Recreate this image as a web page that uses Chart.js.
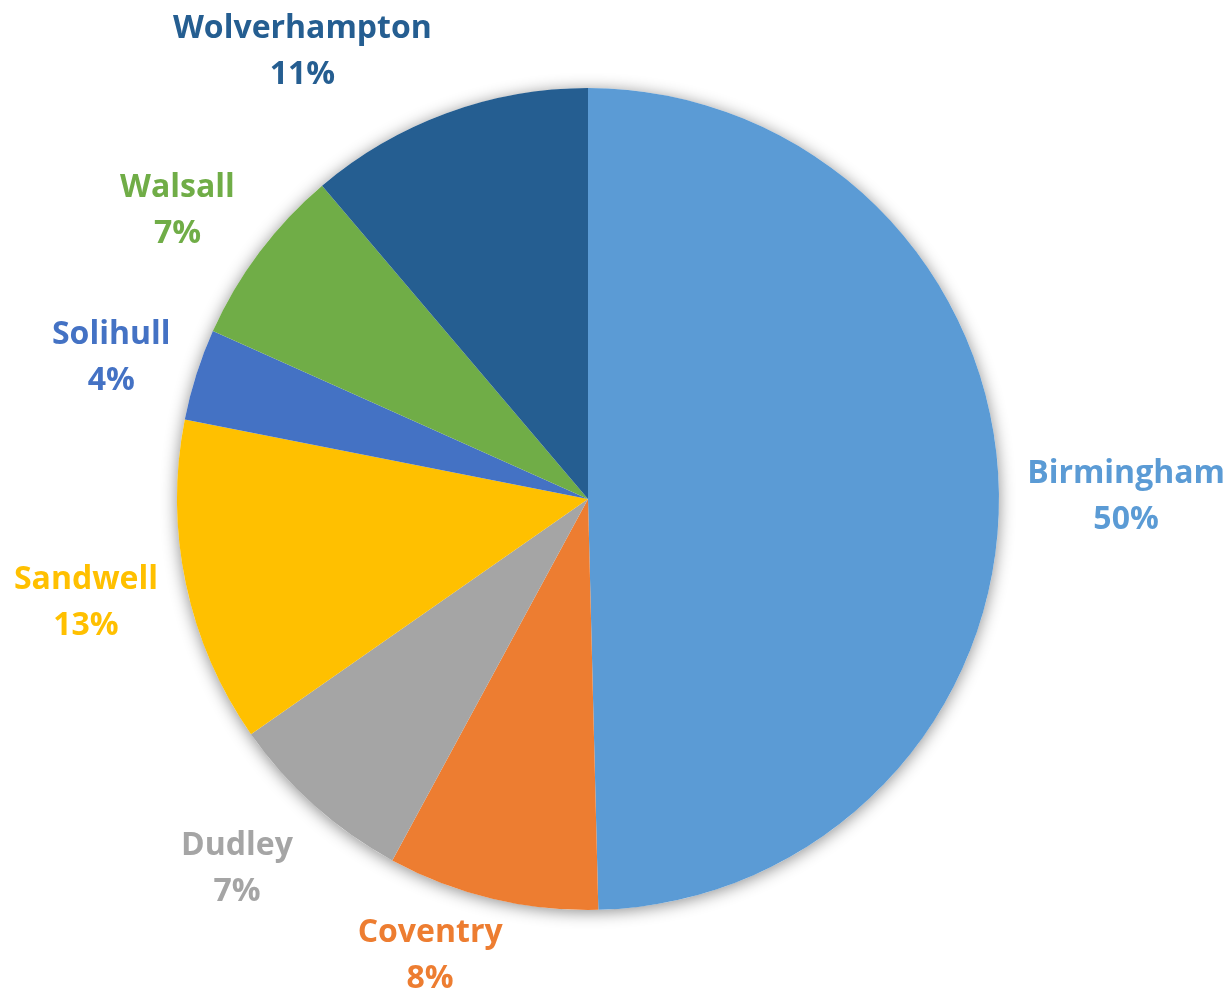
<!DOCTYPE html>
<html>
<head>
<meta charset="utf-8">
<script src="https://cdn.jsdelivr.net/npm/chart.js@4"></script>
<style>
  html, body { margin: 0; padding: 0; background: #fff; }
  #wrap { width: 1225px; height: 990px; position: relative; }
</style>
</head>
<body>
<div id="wrap"><canvas id="pie"></canvas></div>
<script>
'use strict';

// share of total
const areas = ['Birmingham', 'Coventry', 'Dudley', 'Sandwell', 'Solihull', 'Walsall', 'Wolverhampton'];
const shares = [49.6, 8.3, 7.4, 12.8, 3.6, 7.1, 11.2];
const colours = ['#5B9BD5', '#ED7D31', '#A5A5A5', '#FFC000', '#4472C4', '#70AD47', '#255E91'];

// soft drop shadow under the whole pie
const pieShadow = {
  id: 'pieShadow',
  beforeDatasetsDraw(chart) {
    const arc = chart.getDatasetMeta(0).data[0];
    if (!arc) return;
    const ctx = chart.ctx;
    ctx.save();
    ctx.shadowColor = 'rgba(0,0,0,0.45)';
    ctx.shadowBlur = 16;
    ctx.shadowOffsetY = 2;
    ctx.fillStyle = '#ffffff';
    ctx.beginPath();
    ctx.arc(arc.x, arc.y, arc.outerRadius, 0, Math.PI * 2);
    ctx.fill();
    ctx.restore();
  }
};

// name + percent outside each slice, coloured like the slice
const outsideLabels = {
  id: 'outsideLabels',
  afterDraw(chart, args, opts) {
    const ctx = chart.ctx;
    const data = chart.data.datasets[0].data;
    const total = data.reduce((a, b) => a + b, 0);
    const lh = opts.lineHeight;
    ctx.save();
    ctx.font = opts.font;
    ctx.textAlign = 'center';
    ctx.textBaseline = 'middle';
    chart.getDatasetMeta(0).data.forEach((arc, i) => {
      const mid = (arc.startAngle + arc.endAngle) / 2;
      const cos = Math.cos(mid), sin = Math.sin(mid);
      const name = chart.data.labels[i];
      const pct = Math.round(data[i] / total * 100) + '%';
      const w = Math.max(ctx.measureText(name).width, ctx.measureText(pct).width);
      const h = lh * 2;
      const r = arc.outerRadius + opts.gap;
      let cx = arc.x + r * cos + cos * w / 2;
      let cy = arc.y + r * sin + sin * h / 2 + opts.shiftY;
      const nudge = (opts.nudge && opts.nudge[i]) || [0, 0];
      cx += nudge[0];
      cy += nudge[1];
      cx = Math.min(Math.max(cx, w / 2), chart.width - w / 2);
      cy = Math.min(Math.max(cy, h / 2 - opts.overhang), chart.height - h / 2 + opts.overhang);
      ctx.fillStyle = colours[i];
      ctx.fillText(name, cx, cy - lh / 2);
      ctx.fillText(pct, cx, cy + lh / 2);
    });
    ctx.restore();
  }
};

new Chart(document.getElementById('pie'), {
  type: 'pie',
  data: {
    labels: areas,
    datasets: [{
      data: shares,
      backgroundColor: colours,
      borderColor: colours,
      borderWidth: 0
    }]
  },
  options: {
    responsive: true,
    maintainAspectRatio: false,
    animation: false,
    layout: { padding: { left: 177, right: 226, top: 88, bottom: 80 } },
    plugins: {
      legend: { display: false },
      tooltip: { enabled: false },
      outsideLabels: {
        font: 'bold 32px "Open Sans"',
        lineHeight: 46,
        gap: 30,
        shiftY: 4,
        overhang: 12,
        nudge: [[0, 0], [-38, 0], [-20, 3], [0, 0], [0, 2], [-12, 0], [-89, 6]]
      }
    }
  },
  plugins: [pieShadow, outsideLabels]
});
</script>
</body>
</html>
